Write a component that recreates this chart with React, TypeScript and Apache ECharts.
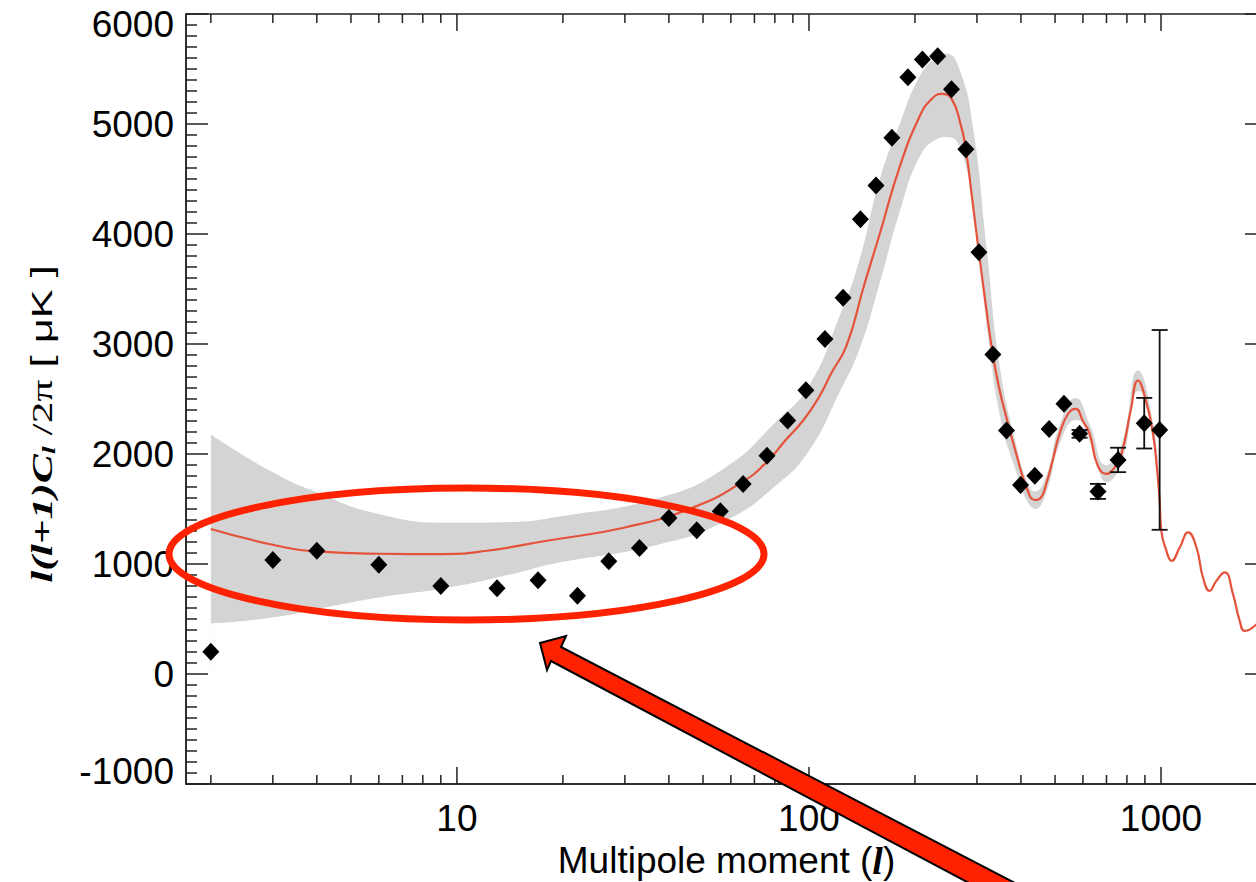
import React, { useEffect, useRef } from "react";
import * as echarts from "echarts";

// ---- Data ----
const obsL = [2, 3, 4, 6, 9, 13, 17, 22, 27, 33, 40, 48, 56, 65, 76, 87, 98, 111, 125, 140, 155, 172, 191, 210, 232, 254, 279, 304, 333, 364, 399, 438, 481, 530, 587, 662, 755, 896, 991];
const obsV = [203, 1036, 1120, 993, 801, 780, 853, 712, 1025, 1145, 1418, 1306, 1480, 1728, 1985, 2304, 2580, 3045, 3420, 4133, 4440, 4876, 5424, 5586, 5616, 5317, 4770, 3834, 2904, 2213, 1718, 1803, 2228, 2456, 2183, 1660, 1946, 2280, 2219];

const errL = [587, 662, 755, 896, 991];
const errV = [2183, 1660, 1946, 2280, 2219];
const errSigma = [35, 68, 111, 230, 908];

const theoryL = [2, 3, 4, 6, 9, 12, 18, 30, 47, 65, 76, 86, 96, 106, 116, 128, 143, 159, 181, 206, 222, 238, 254, 270, 279, 290, 304, 318, 333, 348, 364, 388, 415, 438, 455, 472, 493, 515, 545, 572, 600, 627, 660, 699, 735, 772, 820, 860, 905, 949, 975, 991, 1002, 1036, 1071, 1130, 1194, 1261, 1316, 1375, 1436, 1517, 1601, 1673, 1729, 1859, 2000];
const theoryV = [1318, 1175, 1114, 1093, 1090, 1118, 1211, 1332, 1515, 1750, 1930, 2130, 2300, 2500, 2740, 2990, 3520, 4005, 4611, 5066, 5220, 5273, 5230, 4990, 4770, 4350, 3830, 3350, 2900, 2580, 2330, 2001, 1697, 1582, 1600, 1728, 1950, 2183, 2368, 2411, 2300, 2183, 1900, 1819, 1870, 2001, 2395, 2668, 2490, 2183, 1850, 1576, 1302, 1120, 1029, 1150, 1287, 1150, 877, 756, 847, 923, 726, 483, 392, 446, 560];

const bandL = [2, 3, 4, 6, 9.5, 15, 18.4, 38, 58, 81, 100, 122, 139, 159, 181, 206, 230, 245, 268, 293, 319, 348, 388, 415, 438, 472, 515, 572, 627, 699, 772, 860, 949, 991];
const bandUpper = [2177, 1833, 1651, 1454, 1375, 1385, 1418, 1606, 1879, 2300, 2620, 3250, 3760, 4500, 5000, 5430, 5610, 5640, 5490, 4950, 3900, 2800, 2080, 1760, 1660, 1800, 2260, 2510, 2270, 1900, 2080, 2760, 2280, 1650];
const bandLower = [458, 513, 589, 695, 786, 923, 995, 1181, 1393, 1720, 2030, 2560, 2950, 3560, 4200, 4700, 4860, 4880, 4760, 4150, 3100, 2300, 1800, 1560, 1500, 1650, 2090, 2310, 2090, 1740, 1920, 2570, 2080, 1500];

const xMajorTicks = [10, 100, 1000];
const xMinorTicks = [2, 3, 4, 5, 6, 7, 8, 9, 20, 30, 40, 50, 60, 70, 80, 90, 200, 300, 400, 500, 600, 700, 800, 900, 2000];

const X_MIN = 1.7;
const X_MAX = 2000;
const Y_MIN = -1000;
const Y_MAX = 6000;
const Y_STEP = 1000;

const AX = "#222";
const SANS = "Liberation Sans";
const SERIF = "Liberation Serif";

function tickSeries(values: number[], len: number) {
  return {
    type: "custom",
    silent: true,
    z: 6,
    clip: false,
    data: values.map((v) => [v, Y_MIN]),
    encode: { x: 0, y: 1 },
    renderItem: (params: any, api: any) => {
      const l = api.value(0);
      const pb = api.coord([l, Y_MIN]);
      const pt = api.coord([l, Y_MAX]);
      const st = { stroke: AX, lineWidth: 1.5 };
      return {
        type: "group",
        children: [
          { type: "line", shape: { x1: pb[0], y1: pb[1], x2: pb[0], y2: pb[1] - len }, style: st },
          { type: "line", shape: { x1: pt[0], y1: pt[1], x2: pt[0], y2: pt[1] + len }, style: st },
        ],
      };
    },
  };
}

function yAxisDef(position: "left" | "right", showLabels: boolean) {
  return {
    type: "value",
    position,
    min: Y_MIN,
    max: Y_MAX,
    interval: Y_STEP,
    axisLine: { show: true, onZero: false, lineStyle: { color: AX, width: 1.5 } },
    axisTick: { show: true, inside: true, length: 22, lineStyle: { color: AX, width: 1.5 } },
    minorTick: { show: true, splitNumber: 10, length: 11, lineStyle: { color: AX, width: 1.5 } },
    splitLine: { show: false },
    minorSplitLine: { show: false },
    axisLabel: {
      show: showLabels,
      margin: 12,
      fontSize: 37,
      color: "#000",
      fontFamily: SANS,
      formatter: (v: number) =>
        v === Y_MAX ? "{t|" + v + "}" : v === Y_MIN ? "{b|" + v + "}" : String(v),
      rich: {
        t: { fontSize: 37, fontFamily: SANS, color: "#000", padding: [20, 0, 0, 0] },
        b: { fontSize: 37, fontFamily: SANS, color: "#000", padding: [0, 0, 26, 0] },
      },
    },
  };
}

export default function App() {
  const ref = useRef<HTMLDivElement>(null);

  useEffect(() => {
    document.body.style.margin = "0";
    const chart = echarts.init(ref.current!, null, { renderer: "svg", width: 1256, height: 882 });

    const option: any = {
      animation: false,
      backgroundColor: "#ffffff",
      grid: {
        left: 186,
        top: 14,
        right: -11,
        bottom: 98,
        show: true,
        borderColor: AX,
        borderWidth: 1.5,
        containLabel: false,
        outerBoundsMode: "none",
      },
      xAxis: {
        type: "log",
        logBase: 10,
        min: X_MIN,
        max: X_MAX,
        position: "bottom",
        axisLine: { show: true, onZero: false, lineStyle: { color: AX, width: 1.5 } },
        axisTick: { show: false },
        minorTick: { show: false },
        splitLine: { show: false },
        minorSplitLine: { show: false },
        axisLabel: {
          showMinLabel: false,
          showMaxLabel: false,
          margin: 16,
          fontSize: 37,
          color: "#000",
          fontFamily: SANS,
          formatter: (v: number) => String(Math.round(v)),
        },
        name: "{n|Multipole moment (}{i|l}{n|)}",
        nameLocation: "middle",
        nameGap: 56,
        nameTextStyle: {
          rich: {
            n: { fontSize: 37, fontFamily: SANS, color: "#000" },
            i: { fontSize: 38, fontFamily: SERIF, fontStyle: "italic", fontWeight: "bold", color: "#000" },
          },
        },
      },
      yAxis: [yAxisDef("left", true), yAxisDef("right", false)],
      series: [
        {
          type: "line",
          name: "bandUpper",
          data: bandL.map((l, i) => [l, bandUpper[i]]),
          symbol: "none",
          smooth: true,
          lineStyle: { width: 0, opacity: 0 },
          areaStyle: { color: "#d4d4d4", opacity: 1, origin: "auto" },
          silent: true,
          z: 1,
        },
        {
          type: "line",
          name: "bandLower",
          data: bandL.map((l, i) => [l, bandLower[i]]),
          symbol: "none",
          smooth: true,
          lineStyle: { width: 0, opacity: 0 },
          areaStyle: {
            color: "#ffffff",
            opacity: 1,
            origin: "auto",
            shadowColor: "#ffffff",
            shadowBlur: 0,
            shadowOffsetX: 1.5,
          },
          silent: true,
          z: 2,
        },
        {
          type: "line",
          name: "theory",
          data: theoryL.map((l, i) => [l, theoryV[i]]),
          symbol: "none",
          smooth: true,
          lineStyle: { color: "#e4523b", width: 2.2 },
          z: 3,
        },
        {
          type: "custom",
          name: "errors",
          data: errL.map((l, i) => [l, errV[i] - errSigma[i], errV[i] + errSigma[i]]),
          encode: { x: 0, y: [1, 2] },
          z: 4,
          renderItem: (params: any, api: any) => {
            const l = api.value(0);
            const lo = api.coord([l, api.value(1)]);
            const hi = api.coord([l, api.value(2)]);
            const hw = 8;
            const st = { stroke: "#111", lineWidth: 1.8 };
            return {
              type: "group",
              children: [
                { type: "line", shape: { x1: lo[0], y1: lo[1], x2: hi[0], y2: hi[1] }, style: st },
                { type: "line", shape: { x1: lo[0] - hw, y1: lo[1], x2: lo[0] + hw, y2: lo[1] }, style: st },
                { type: "line", shape: { x1: hi[0] - hw, y1: hi[1], x2: hi[0] + hw, y2: hi[1] }, style: st },
              ],
            };
          },
        },
        {
          type: "scatter",
          name: "data",
          data: obsL.map((l, i) => [l, obsV[i]]),
          symbol: "diamond",
          symbolSize: [17, 18],
          itemStyle: { color: "#000", opacity: 1 },
          z: 5,
        },
        tickSeries(xMajorTicks, 17),
        tickSeries(xMinorTicks, 9),
      ],
      graphic: [
        {
          type: "text",
          x: 42,
          y: 424,
          rotation: Math.PI / 2,
          scaleX: 1.5,
          scaleY: 1,
          z: 50,
          style: {
            text: "{a|l(l+1)C}{s|l}{b| /2π}{c| [ μK ]}",
            align: "center",
            verticalAlign: "middle",
            rich: {
              a: { fontSize: 29, fontFamily: SERIF, fontStyle: "italic", fontWeight: "bold", fill: "#000" },
              s: { fontSize: 19, fontFamily: SERIF, fontStyle: "italic", fontWeight: "bold", fill: "#000", padding: [12, 0, 0, 0] },
              b: { fontSize: 29, fontFamily: SERIF, fill: "#000" },
              c: { fontSize: 29, fontFamily: SANS, fill: "#000" },
            },
          },
        },
        {
          type: "ellipse",
          z: 100,
          shape: { cx: 466.5, cy: 554, rx: 297.5, ry: 66 },
          style: { fill: "none", stroke: "#ff2200", lineWidth: 7 },
        },
        {
          type: "polygon",
          z: 101,
          shape: {
            points: [
              [540, 643],
              [566, 636],
              [561, 647],
              [1090, 922],
              [1050, 926],
              [551, 661],
              [547, 670],
            ],
          },
          style: { fill: "#ff2200", stroke: "#000", lineWidth: 2, lineJoin: "miter" },
        },
      ],
    };

    chart.setOption(option);
    return () => chart.dispose();
  }, []);

  return (
    <div
      ref={ref}
      style={{ position: "absolute", left: 0, top: 0, width: 1256, height: 882, background: "#fff" }}
    />
  );
}
